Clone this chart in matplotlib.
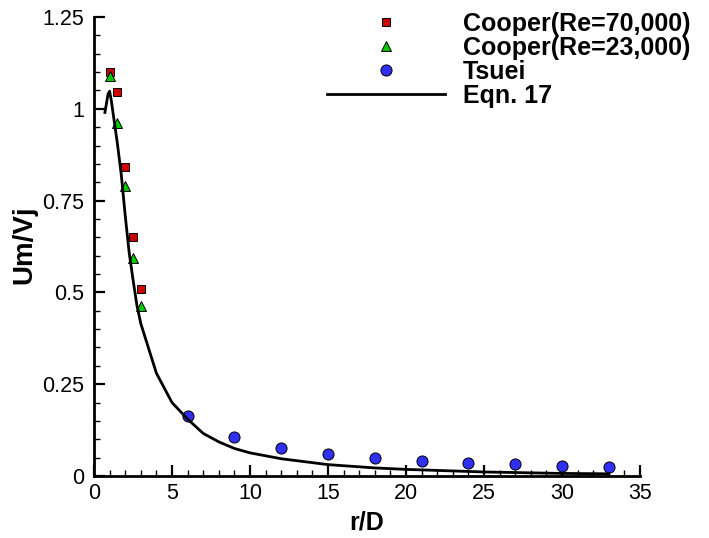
import numpy as np
import matplotlib.pyplot as plt
from matplotlib.ticker import MultipleLocator

plt.rcParams['font.family'] = ['Liberation Sans', 'DejaVu Sans']

# Cooper data, two Reynolds numbers
cooper_x = [1.0, 1.5, 2.0, 2.5, 3.0]
cooper70_u = [1.10, 1.046, 0.842, 0.65, 0.51]
cooper23_u = [1.09, 0.961, 0.789, 0.594, 0.462]

# Tsuei data
tsuei_x = [6, 9, 12, 15, 18, 21, 24, 27, 30, 33]
tsuei_u = [0.164, 0.105, 0.076, 0.060, 0.049, 0.042, 0.036, 0.032, 0.028, 0.025]

# Eqn. 17 curve
eqn_x = [0.7, 0.8, 0.9, 1.0, 1.1, 1.25, 1.5, 1.75, 2.0, 2.25, 2.5, 2.75, 3.0,
         4.0, 5.0, 6.0, 7.0, 8.0, 9.0, 10.0, 12.0, 15.0, 18.0, 20.0, 25.0, 30.0, 33.0]
eqn_u = [0.99, 1.015, 1.04, 1.048, 1.025, 0.98, 0.905, 0.82, 0.71, 0.61, 0.535, 0.465, 0.415,
         0.28, 0.20, 0.155, 0.116, 0.093, 0.075, 0.063, 0.047, 0.031, 0.022, 0.018, 0.011, 0.007, 0.006]

fig = plt.figure(figsize=(7.09, 5.38), dpi=100)
ax = fig.add_axes([94/709, 62/538, 546/709, 459/538])

ax.plot(cooper_x, cooper70_u, 's', ms=6, color='#cc0000', mec='black', mew=0.7,
        label='Cooper(Re=70,000)', zorder=3)
ax.plot(cooper_x, cooper23_u, '^', ms=6.5, color='#00c800', mec='black', mew=0.7,
        label='Cooper(Re=23,000)', zorder=3)
ax.plot(tsuei_x, tsuei_u, 'o', ms=8, color='#3030f5', mec='black', mew=0.7,
        label='Tsuei', zorder=3)
ax.plot(eqn_x, eqn_u, '-', color='black', lw=2.0, label='Eqn. 17', zorder=4)

ax.set_xlim(0, 35)
ax.set_ylim(0, 1.25)
ax.xaxis.set_major_locator(MultipleLocator(5))
ax.xaxis.set_minor_locator(MultipleLocator(1))
ax.yaxis.set_minor_locator(MultipleLocator(0.05))
ax.set_yticks([0, 0.25, 0.5, 0.75, 1, 1.25])
ax.set_yticklabels(['0', '0.25', '0.5', '0.75', '1', '1.25'])

ax.spines['top'].set_visible(False)
ax.spines['right'].set_visible(False)
for s in ['left', 'bottom']:
    ax.spines[s].set_linewidth(2.0)
ax.set_axisbelow(False)
ax.tick_params(which='major', direction='in', length=8, width=1.6, labelsize=15.5)
ax.tick_params(which='minor', direction='in', length=4.5, width=1.0)
ax.tick_params(axis='x', which='major', pad=5)
ax.tick_params(axis='y', which='major', pad=7)

ax.set_xlabel('r/D', fontsize=18, fontweight='bold')
ax.set_ylabel('Um/Vj', fontsize=20, fontweight='bold')
ax.xaxis.set_label_coords(0.5, -0.076)
ax.yaxis.set_label_coords(-0.103, 0.503)

leg = ax.legend(loc='upper left', bbox_to_anchor=(327/709, 1 - 12/538),
                bbox_transform=fig.transFigure, frameon=False,
                prop={'weight': 'bold', 'size': 18}, handlelength=4.72,
                handletextpad=0.72, labelspacing=0.0, borderpad=0, borderaxespad=0)

plt.savefig('out.png', dpi=100)
